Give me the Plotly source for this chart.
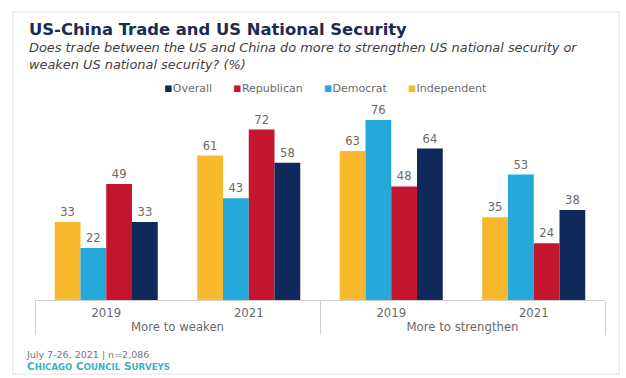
import plotly.graph_objects as go

# Survey results (%)
outlook = ["More to weaken", "More to weaken", "More to strengthen", "More to strengthen"]
years = ["2019", "2021", "2019", "2021"]

independent = [33, 61, 63, 35]
democrat = [22, 43, 76, 53]
republican = [49, 72, 48, 24]
overall = [33, 58, 64, 38]

series = [
    ("Independent", independent, "#F8B92C"),
    ("Democrat", democrat, "#25A8DA"),
    ("Republican", republican, "#C5162F"),
    ("Overall", overall, "#10295A"),
]

FONT = "DejaVu Sans"
GRAY = "#6a6a6a"

fig = go.Figure()
for name, vals, color in series:
    fig.add_trace(go.Bar(
        name=name,
        x=[outlook, years],
        y=vals,
        marker=dict(color=color, line=dict(width=0)),
        text=[str(v) for v in vals],
        textposition="outside",
        textfont=dict(family=FONT, size=11.5, color=GRAY),
        cliponaxis=False,
        showlegend=False,
    ))

fig.update_layout(
    width=626,
    height=378,
    paper_bgcolor="white",
    plot_bgcolor="white",
    margin=dict(l=35, r=21, t=100, b=78),
    barmode="group",
    bargap=0.277,
    bargroupgap=0,
    xaxis=dict(
        type="multicategory",
        showline=True,
        linecolor="#d0d0d0",
        linewidth=1,
        showdividers=True,
        dividercolor="#d0d0d0",
        dividerwidth=1,
        ticks="",
        ticklabelstandoff=2,
        tickfont=dict(family=FONT, size=11.7, color=GRAY),
    ),
    yaxis=dict(
        range=[0, 84.5],
        visible=False,
        showgrid=False,
        zeroline=False,
    ),
    font=dict(family=FONT, color=GRAY),
)

# Card outline
fig.add_shape(
    type="rect", xref="paper", yref="paper",
    x0=-0.039, x1=1.025, y0=-0.37, y1=1.44,
    line=dict(color="#e2e2e2", width=1),
    fillcolor="rgba(0,0,0,0)",
    layer="below",
)

# Title and question
fig.add_annotation(
    text="<b>US-China Trade and US National Security</b>",
    xref="paper", yref="paper", x=-0.014, y=1.35,
    xanchor="left", yanchor="middle", showarrow=False,
    font=dict(family=FONT, size=16.4, color="#1B2B52"),
)
fig.add_annotation(
    text="<i>Does trade between the US and China do more to strengthen US national security or<br>weaken US national security? (%)</i>",
    xref="paper", yref="paper", x=-0.014, y=1.22,
    xanchor="left", yanchor="middle", align="left", showarrow=False,
    font=dict(family=FONT, size=12.9, color="#404040"),
)

# Legend row, listed in the reverse of the bar order
legend_items = [(name, color) for name, _, color in reversed(series)]
gap = "&nbsp;" * 6
legend_text = gap.join(
    f'<span style="color:{color};font-size:13px">\u25aa</span>{name}' for name, color in legend_items
)
fig.add_annotation(
    text=legend_text,
    xref="paper", yref="paper", x=(325 - 35) / 570, y=1.06,
    xanchor="center", yanchor="middle", showarrow=False,
    font=dict(family=FONT, size=11, color=GRAY),
)

# Source line
source_brand = (
    'C<span style="font-size:8.6px">HICAGO</span> '
    'C<span style="font-size:8.6px">OUNCIL</span> '
    'S<span style="font-size:8.6px">URVEYS</span>'
)
fig.add_annotation(
    text=f'July 7-26, 2021 | n=2,086<br><span style="color:#3DB1C8;font-size:10.5px"><b>{source_brand}</b></span>',
    xref="paper", yref="paper", x=-0.02, y=-0.30,
    xanchor="left", yanchor="middle", align="left", showarrow=False,
    font=dict(family=FONT, size=9.5, color="#777777"),
)

fig.write_html("out.html")
